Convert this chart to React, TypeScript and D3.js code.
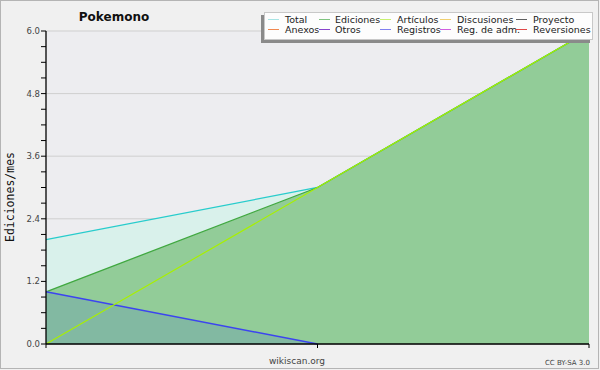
import React from "react";
import * as d3 from "d3";

const months = [0, 1, 2];
const total = [2, 3, 6];
const ediciones = [1, 3, 6];
const articulos = [0, 3, 6];
const registros = [1, 0, 0];
const yTicks = [0, 1.2, 2.4, 3.6, 4.8, 6.0];
const legendRow1 = ["Total", "Ediciones", "Artículos", "Discusiones", "Proyecto"];
const legendRow2 = ["Anexos", "Otros", "Registros", "Reg. de adm.", "Reversiones"];
const legendColors1 = ["#a8e4e4", "#80c480", "#c8f070", "#f0d070", "#606060"];
const legendColors2 = ["#f08850", "#8844cc", "#8080f0", "#d060e0", "#e04848"];

export default function App() {
  const W = 600, H = 370;
  const x0 = 46, x1 = 589, yTop = 31, yBot = 344;
  const x = d3.scaleLinear().domain([0, 2]).range([x0, x1]);
  const y = d3.scaleLinear().domain([0, 6]).range([yBot, yTop]);
  const area = (vals: number[]) =>
    d3.area<number>().x((_, i) => x(months[i])).y0(y(0)).y1((d) => y(d))(vals) || "";
  const line = (vals: number[], n = vals.length) =>
    d3.line<number>().x((_, i) => x(months[i])).y((d) => y(d))(vals.slice(0, n)) || "";
  const minor = d3.range(0, 6.0001, 0.3);
  const font = "'DejaVu Sans', sans-serif";
  const colX = [268, 319, 380, 440, 516];
  const textX = [285, 335, 397, 457, 533];
  return (
    <svg width={W} height={H} style={{ position: "absolute", left: 0, top: 0, display: "block" }}>
      <rect x={0} y={0} width={W} height={H} fill="#f0f0f0" />
      <rect x={0.5} y={0.5} width={W - 2} height={H - 2} fill="none" stroke="#b4b4b4" strokeWidth={1} />
      <rect x={x0} y={yTop} width={x1 - x0} height={yBot - yTop} fill="#ededf0" />
      {yTicks.map((t) => (
        <line key={t} x1={x0} x2={x1} y1={y(t)} y2={y(t)} stroke="#cfcfcf" strokeWidth={1} />
      ))}
      <path d={area(total)} fill="#d9f1eb" />
      <path d={area(ediciones)} fill="#92cc98" />
      <path d={area(registros)} fill="#82b9a2" />
      <path d={line(total)} fill="none" stroke="#28cccc" strokeWidth={1.3} />
      <path d={line(ediciones)} fill="none" stroke="#40a840" strokeWidth={1.3} />
      <path d={line(registros, 2)} fill="none" stroke="#3c44f0" strokeWidth={1.5} />
      <path d={line(articulos)} fill="none" stroke="#a8f000" strokeWidth={1.2} />
      <line x1={x0} x2={x0} y1={yTop} y2={yBot} stroke="#000" strokeWidth={1.3} />
      <line x1={x0} x2={x1} y1={yBot} y2={yBot} stroke="#000" strokeWidth={1.3} />
      {minor.map((t, i) => (
        <line key={i} x1={x0 - 5} x2={x0} y1={y(t)} y2={y(t)} stroke="#000" strokeWidth={1} />
      ))}
      {months.map((m) => (
        <line key={m} x1={x(m)} x2={x(m)} y1={yBot} y2={yBot + 4} stroke="#000" strokeWidth={1} />
      ))}
      {yTicks.map((t) => (
        <text key={t} x={x0 - 6} y={y(t) + 3} textAnchor="end" fontFamily={font} fontSize={8.5} fill="#444">
          {t.toFixed(1)}
        </text>
      ))}
      <text x={114} y={21} textAnchor="middle" fontFamily={font} fontSize={12} fontWeight="bold" fill="#111">
        Pokemono
      </text>
      <text transform={`translate(14,${197}) rotate(-90)`} textAnchor="middle" fontFamily="'DejaVu Sans Mono', monospace" fontSize={11.5} fill="#111">
        Ediciones/mes
      </text>
      <text x={297} y={364} textAnchor="middle" fontFamily={font} fontSize={9} fill="#444">
        wikiscan.org
      </text>
      <text x={590} y={365} textAnchor="end" fontFamily={font} fontSize={7} fill="#444">
        CC BY-SA 3.0
      </text>
      <rect x={261} y={15} width={329} height={28} fill="#8a8a8a" />
      <rect x={264.5} y={12.5} width={328} height={27} fill="#fdfdfd" stroke="#c8c8c8" strokeWidth={1} />
      {legendRow1.map((n, i) => (
        <g key={n}>
          <line x1={colX[i]} x2={colX[i] + 11} y1={19.5} y2={19.5} stroke={legendColors1[i]} strokeWidth={1} />
          <text x={textX[i]} y={23} fontFamily={font} fontSize={9.5} fill="#222">{n}</text>
        </g>
      ))}
      {legendRow2.map((n, i) => (
        <g key={n}>
          <line x1={colX[i]} x2={colX[i] + 11} y1={29.5} y2={29.5} stroke={legendColors2[i]} strokeWidth={1} />
          <text x={textX[i]} y={33} fontFamily={font} fontSize={9.5} fill="#222">{n}</text>
        </g>
      ))}
    </svg>
  );
}
